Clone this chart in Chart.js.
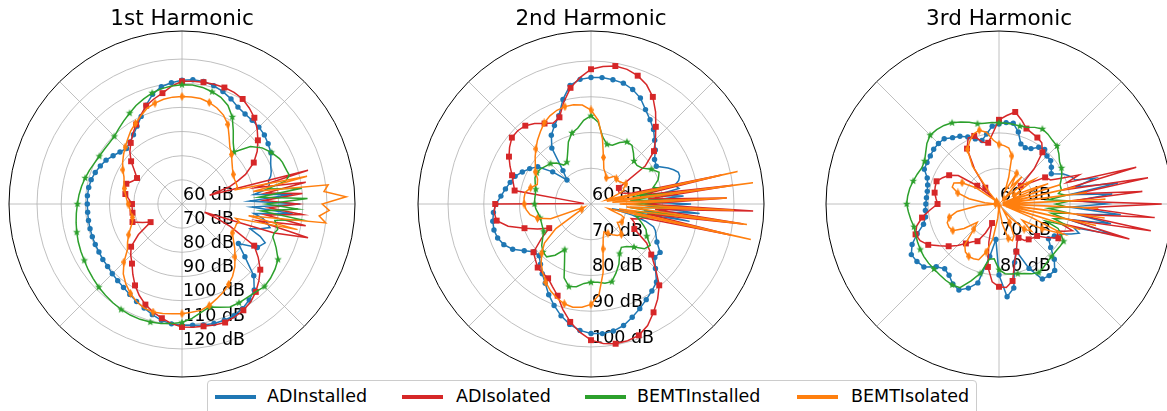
<!DOCTYPE html>
<html>
<head>
<meta charset="utf-8">
<script src="https://cdn.jsdelivr.net/npm/chart.js@4.4.1/dist/chart.umd.min.js"></script>
<style>
html, body { margin: 0; padding: 0; background: #fff; width: 1167px; height: 411px; overflow: hidden; }
canvas { position: absolute; top: 0; }
#legend { position: absolute; left: 207px; top: 380px; width: 770px; height: 40px; box-sizing: border-box;
  border: 1px solid #cccccc; border-radius: 4px; background: #fff; font: 17.5px "DejaVu Sans"; color: #000; }
#legend .ln { position: absolute; top: 14px; height: 4px; width: 41px; }
#legend .tx { position: absolute; top: 5px; white-space: nowrap; }
</style>
</head>
<body>
<canvas id="h1" width="364" height="378" style="left:0px"></canvas>
<canvas id="h2" width="364" height="378" style="left:409px"></canvas>
<canvas id="h3" width="364" height="378" style="left:817px"></canvas>
<div id="legend"></div>
<script>
// angle grid of the charts: 2.5 degree steps, counter-clockwise from east
const angles = [];
for (let a = 0; a < 360; a += 2.5) angles.push(a);
// smooth part of each curve is read every 5 deg from 30 to 330 deg,
// the noisy part round 0 deg every 2.5 deg from -25 to +25 deg
const smoothAngles = [];
for (let a = 30; a <= 330; a += 5) smoothAngles.push(a);
const spikeAngles = [];
for (let a = -25; a <= 25; a += 2.5) spikeAngles.push(a);

const seriesNames = ['ADInstalled', 'ADIsolated', 'BEMTInstalled', 'BEMTIsolated'];
const seriesColors = ['#1f77b4', '#d62728', '#2ca02c', '#ff7f0e'];

// ---- 1st harmonic (dB) ----
const h1_ADInstalled = [
  102.5, 103.5, 104.5, 105, 105.2, 105.5,
  106.3, 108, 109.5, 110.7, 111.5, 111.6, 111.2, 110.4, 109.3, 107, 103.5, 100,
  97.2, 95, 93.5, 92.5, 93.5, 94.8, 96.3, 97.3, 98.2, 98.9, 99.2, 99.3,
  99.2, 99.2, 99.3, 99.4, 99.5, 99.6, 99.7, 100, 100.2, 100.8, 101.4, 102.2,
  103.2, 104.5, 105.8, 107.4, 108.9, 109.8, 110.2, 110.4, 110.8, 111.2, 111.2, 111,
  110, 108.5, 106.5, 102, 94, 88.5, 96
];
const h1_ADIsolated = [
  94.3, 98, 101, 104, 106.6, 108.5,
  110.2, 111, 111.3, 111.3, 111.2, 111, 110.8, 109, 106.6, 105, 103.3, 100.5,
  98, 95.5, 93, 90.5, 87.5, 84, 81.5, 82.5, 84.5, 84.5, 83.8, 82,
  80.7, 80.7, 80.8, 81, 81.8, 78, 75, 82, 87.5, 90, 92.2, 95.5,
  98.9, 101.8, 104.3, 106.3, 108, 109.7, 110.9, 111.2, 111.4, 111.8, 112.2, 111.6,
  110.8, 109.5, 107.5, 105, 102.3, 98.5, 94.5
];
const h1_BEMTInstalled = [
  102.7, 100.5, 97, 90.5, 93, 97,
  101.6, 105, 107, 108.1, 109, 109.4, 109.4, 109, 108.5, 107.6, 106.3, 105,
  103.4, 102, 100.7, 99.6, 99.3, 99.3, 99.5, 100, 100.8, 101.5, 102.2, 102.8,
  103.3, 103.9, 104.5, 105.1, 105.7, 106.2, 106.7, 107.4, 108, 108.7, 109.3, 109.9,
  110.4, 110.7, 110.8, 110.6, 110.2, 109.6, 109, 107.5, 105.5, 104.1, 105.5, 107,
  107.2, 107.2, 107.5, 108.3, 107.8, 107, 105.9
];
const h1_BEMTIsolated = [
  84.5, 85.5, 87, 89, 90.8, 94,
  98, 100.6, 102.3, 103.5, 104.3, 104.5, 104.5, 104.4, 104, 103.2, 102.2, 100.3,
  98.5, 97, 95, 93.3, 91.6, 90, 88.3, 86.5, 85.5, 84.8, 83.8, 83,
  82.3, 81.7, 81.5, 81.3, 81.8, 83.5, 85.5, 87.5, 89.5, 94, 97.8, 100.5,
  102.7, 104.5, 105.8, 106.3, 106, 105.6, 105.4, 105, 104.7, 103.5, 101.8, 100.3,
  98.5, 96.5, 94, 91, 88.5, 86, 84
];
const h1_ADInstalled_spike   = [98, 95, 90, 94, 97.7, 96, 94, 90, 106, 89, 109, 88, 106, 90, 96, 97, 97, 98.5, 99.3, 99.8, 100.5];
const h1_ADIsolated_spike    = [82, 76, 70, 100, 114, 92, 112, 95, 110, 96, 108, 94, 110, 95, 112, 91, 114, 72, 81, 85, 89];
const h1_BEMTInstalled_spike = [103, 101.5, 100, 100, 101, 100, 99, 110, 93, 108, 95, 112, 92, 110, 96, 104, 106, 105.5, 105.2, 105, 104.5];
const h1_BEMTIsolated_spike  = [84, 84, 84, 85, 83, 109, 88, 120, 117, 121, 118, 128, 119, 121, 90, 113, 83, 84, 84, 84, 84];

// ---- 2nd harmonic (dB) ----
const h2_ADInstalled = [
  81.1, 81.7, 83.5, 85.2, 87.2, 88.8,
  90.5, 92.7, 94.1, 95, 95.3, 95.5, 95.4, 95, 93.7, 90.3, 86.3, 84.2,
  82.2, 79.1, 72.2, 69.5, 74, 78.2, 79.8, 81.2, 82.6, 83.4, 84.3, 85.3,
  86.6, 87.4, 87.9, 88.1, 87.8, 86.9, 85.3, 82.8, 80.8, 80.5, 82, 83.8,
  85.6, 88, 90.2, 92.4, 94.2, 95.5, 96.2, 96.4, 96.1, 95.2, 93.7, 92.3,
  90.9, 89.7, 88.5, 85.5, 83.3, 83.6, 81.3
];
const h2_ADIsolated = [
  69, 78.5, 83, 85.5, 88.2, 91.5,
  94.6, 96.8, 98.2, 99, 99.2, 98.6, 97.7, 95.5, 93, 89.5, 85.8, 85,
  86, 87.5, 88.6, 89, 88.9, 87.8, 86.5, 85, 83.5, 82.5, 81.7, 62,
  86.8, 87.2, 86.8, 84, 79.8, 76.5, 73.5, 77, 81, 82, 83.2, 83.6,
  84, 85.5, 87.3, 90.5, 93.5, 96, 98.1, 99.2, 99.7, 99.6, 99.1, 97.5,
  95, 92.5, 89.7, 85.5, 82, 79, 74
];
const h2_BEMTInstalled = [
  79.5, 77.5, 76.8, 77, 78.5, 80,
  80.1, 79, 77.5, 77.3, 79, 83, 84.7, 83.5, 81.5, 80.6, 78.5, 75.5,
  73.5, 73.3, 75, 76, 76.5, 77.2, 77.5, 77.3, 76.6, 76, 75.8, 75.8,
  75.8, 75.5, 75, 74.8, 74.8, 75, 75.3, 76.5, 78, 79, 79.3, 77.5,
  74.7, 77.5, 82, 83.9, 83.5, 82.3, 81.9, 82, 82.5, 82.5, 80.5, 78.5,
  76, 74.8, 75.5, 77, 79.5, 80.2, 78
];
const h2_BEMTIsolated = [
  71.3, 70.5, 70, 70, 70.1, 69,
  68.5, 69.5, 70.5, 73.5, 78.5, 83.5, 86.3, 87.8, 88.2, 88.2, 87.9, 87.2,
  86.2, 84.7, 83.3, 81.8, 80.4, 79, 78, 76.5, 76, 77.5, 78.7, 78.8,
  78.7, 78.2, 77.3, 75.5, 72, 62, 63, 72, 77, 79.5, 81.7, 83.5,
  85.3, 86.8, 88, 88.9, 89.3, 89, 88.1, 85.5, 79.5, 73, 70, 68.6,
  69.5, 70.5, 71.5, 72, 70.5, 69, 70
];
const h2_ADInstalled_spike   = [80, 79.5, 78.6, 76, 72, 66, 88, 75, 90.5, 77, 88, 74, 86, 78, 85, 84, 85.4, 86, 86, 85, 83.8];
const h2_ADIsolated_spike    = [73.5, 73, 72, 74, 75, 100, 76, 103, 78, 105.4, 75, 98, 76, 100, 74, 97.4, 72, 70, 69, 68.5, 68.5];
const h2_BEMTInstalled_spike = [77, 76, 75, 74, 73, 78, 72, 85, 71, 84, 72, 85, 71, 84, 73, 80, 78, 79, 80, 80.5, 81];
const h2_BEMTIsolated_spike  = [70, 70, 69, 66, 65, 105.8, 68, 104, 70, 100, 68, 98, 66, 105.7, 64.5, 102, 64.5, 66, 68, 70, 70];

// ---- 3rd harmonic (dB) ----
const h3_ADInstalled = [
  77, 78, 79, 79.1, 80, 79.5,
  78, 77.5, 78, 81, 83.1, 83, 82.5, 82, 80, 78.5, 79.5, 80.8,
  82, 82.8, 84, 84.1, 84, 83.6, 83.4, 83.2, 81.5, 80.8, 80.5, 80.5,
  80.6, 80.8, 81, 82, 84.5, 87, 88.5, 88.2, 87.6, 85, 83.8, 84.5,
  86, 86.7, 85.2, 83, 75, 70, 80, 86.2, 84, 77, 74, 80,
  84.4, 84.6, 84.4, 82, 79, 77, 78
];
const h3_ADIsolated = [
  75, 70, 68, 74, 79, 81,
  81.6, 82, 82.6, 84.5, 86.3, 85, 83.7, 80, 77.5, 78, 80.4, 80.5,
  78, 72, 66, 63, 68, 74, 76.2, 77.5, 78.7, 78.6, 78.4, 77.8,
  77.3, 79.5, 82, 84, 85, 84.5, 83, 80.5, 78.5, 76.5, 74.5, 73,
  72.1, 69, 65.7, 71, 78, 82, 83.3, 83.6, 82, 77, 74.3, 72,
  71, 72.5, 73, 73.5, 74, 76.5, 79.3
];
const h3_BEMTInstalled = [
  80.3, 80.8, 82, 83.1, 83.4, 84,
  84.4, 83.8, 83, 82.7, 82.8, 82.8, 82.9, 83, 83.1, 83.4, 84.5, 85.5,
  86.4, 87, 87.3, 87.4, 86.5, 85.2, 84.2, 84, 84.5, 85, 85.5, 85.8,
  86, 85.6, 85.2, 84.8, 85, 85.3, 85.6, 85.8, 85.9, 85.9, 86, 86.2,
  86.3, 86, 83, 80.2, 75.8, 75.5, 78.5, 79.7, 80, 80.3, 80.8, 81.7,
  82.3, 81.8, 81.2, 80.9, 80.8, 80.9, 81
];
const h3_BEMTIsolated = [
  65, 72, 68, 62, 70, 66,
  70, 64, 68, 74, 76, 76.5, 76.8, 78, 80.5, 81.5, 81, 79.5,
  77.8, 73, 64, 61, 62, 68, 72, 74, 74, 72, 68.6, 64,
  61, 66, 72, 74.5, 75.5, 75.5, 75, 72, 68, 70, 75, 76.5,
  77, 77, 76.7, 74, 70, 64, 60.5, 62, 66, 70, 71, 70,
  66, 62, 65, 70, 72, 68, 74
];
const h3_ADInstalled_spike   = [80, 82, 84, 82, 93.3, 80, 92, 82, 94.4, 80, 90, 82, 92, 80, 94, 82, 88, 82.4, 82, 81, 80];
const h3_ADIsolated_spike    = [78, 80, 82, 78, 98, 80, 103.4, 82, 104, 84, 105.8, 80, 100.5, 82, 102.6, 78, 100, 80, 84, 79, 76];
const h3_BEMTInstalled_spike = [79, 78, 74, 80, 76, 79, 75, 80, 74, 79, 76, 80, 74, 79, 77, 78, 78, 78, 78.5, 79, 79.5];
const h3_BEMTIsolated_spike  = [80, 70, 62, 84, 61, 88, 62, 90, 61, 88, 62, 90, 61, 85, 62, 82, 61, 78, 62, 75, 70];

// radial tick labels of each panel
const h1_ticks = [60, 70, 80, 90, 100, 110, 120];
const h2_ticks = [60, 70, 80, 90, 100];
const h3_ticks = [60, 70, 80];

// put the smooth and the noisy readings on the common angle grid (null = no reading there)
function onGrid(smooth, spike) {
  return angles.map(a => {
    const s = a > 180 ? a - 360 : a;
    const si = spikeAngles.indexOf(s);
    if (si >= 0) return spike[si];
    const k = smoothAngles.indexOf(a);
    return k >= 0 ? smooth[k] : null;
  });
}
// radar goes clockwise from its first label, the data is counter-clockwise
const toCW = arr => arr.map((_, i) => arr[(arr.length - i) % arr.length]);

function markerStar(color, R) {
  const c = document.createElement('canvas');
  c.width = c.height = 2 * R + 2;
  const g = c.getContext('2d');
  g.fillStyle = color;
  g.beginPath();
  for (let k = 0; k < 10; k++) {
    const rr = k % 2 ? R * 0.42 : R;
    const a = -Math.PI / 2 + k * Math.PI / 5;
    g.lineTo(R + 1 + rr * Math.cos(a), R + 1 + rr * Math.sin(a));
  }
  g.closePath();
  g.fill();
  return c;
}
function markerThinDiamond(color, w, h) {
  const c = document.createElement('canvas');
  c.width = w; c.height = h;
  const g = c.getContext('2d');
  g.fillStyle = color;
  g.beginPath();
  g.moveTo(w / 2, 0); g.lineTo(w, h / 2); g.lineTo(w / 2, h); g.lineTo(0, h / 2);
  g.closePath();
  g.fill();
  return c;
}

const markerStyles = ['circle', 'rect', markerStar(seriesColors[2], 4), markerThinDiamond(seriesColors[3], 5, 9)];
const markerSizes = [2.7, 4.2, 3, 3];
const markEvery = [1, 2, 3, 3];   // in 5 degree steps

const rLabels = {
  id: 'rLabels',
  beforeDatasetsDraw(chart, args, opts) {
    const s = chart.scales.r, ctx = chart.ctx;
    ctx.save();
    ctx.font = '17.5px "DejaVu Sans"';
    ctx.fillStyle = '#000';
    ctx.textAlign = 'left';
    ctx.textBaseline = 'bottom';
    opts.ticks.forEach(v => {
      const d = s.getDistanceFromCenterForValue(v);
      ctx.fillText(v + ' dB', s.xCenter + 1, s.yCenter + d);
    });
    ctx.restore();
  },
  afterDatasetsDraw(chart) {
    const s = chart.scales.r, ctx = chart.ctx;
    ctx.save();
    ctx.strokeStyle = '#000';
    ctx.lineWidth = 1;
    ctx.beginPath();
    ctx.arc(s.xCenter, s.yCenter, s.getDistanceFromCenterForValue(s.max), 0, Math.PI * 2);
    ctx.stroke();
    ctx.restore();
  }
};

function polarChart(id, title, rMax, tickVals, smooth, spikes) {
  const n = angles.length;
  const ctx = document.getElementById(id).getContext('2d');
  return new Chart(ctx, {
    type: 'radar',
    data: {
      labels: toCW(angles).map(a => a + '°'),
      datasets: smooth.map((vals, s) => ({
        label: seriesNames[s],
        data: toCW(onGrid(vals, spikes[s])),
        borderColor: seriesColors[s],
        backgroundColor: seriesColors[s],
        borderWidth: 1.5,
        fill: false,
        tension: 0,
        spanGaps: true,
        clip: false,
        order: 4 - s,
        pointStyle: markerStyles[s],
        pointBorderWidth: 0,
        pointRadius: c => {
          const a = angles[(n - c.dataIndex) % n];
          if (a < 30 || a > 330 || a % 5 !== 0) return 0;
          return (a / 5) % markEvery[s] === 0 ? markerSizes[s] : 0;
        }
      }))
    },
    options: {
      responsive: false,
      animation: false,
      devicePixelRatio: 1,
      layout: { padding: 0 },
      plugins: {
        legend: { display: false },
        tooltip: { enabled: false },
        title: {
          display: true, text: title, color: '#000',
          font: { family: 'DejaVu Sans', size: 21.5, weight: 'normal', lineHeight: 1.1 },
          padding: { top: 8, bottom: 0 }
        },
        rLabels: { ticks: tickVals }
      },
      scales: {
        r: {
          min: 60, max: rMax, startAngle: 90,
          ticks: { display: false, stepSize: 10 },
          pointLabels: { display: false },
          grid: {
            circular: true,
            color: c => (tickVals.includes(c.tick.value) && c.tick.value > 60) ? '#b0b0b0' : 'rgba(0,0,0,0)',
            lineWidth: 0.8
          },
          angleLines: {
            color: c => c.index % 18 === 0 ? '#b0b0b0' : 'rgba(0,0,0,0)',
            lineWidth: c => c.index % 18 === 0 ? 0.8 : 0
          }
        }
      }
    },
    plugins: [rLabels]
  });
}

polarChart('h1', '1st Harmonic', 131.6, h1_ticks,
  [h1_ADInstalled, h1_ADIsolated, h1_BEMTInstalled, h1_BEMTIsolated],
  [h1_ADInstalled_spike, h1_ADIsolated_spike, h1_BEMTInstalled_spike, h1_BEMTIsolated_spike]);
polarChart('h2', '2nd Harmonic', 108.4, h2_ticks,
  [h2_ADInstalled, h2_ADIsolated, h2_BEMTInstalled, h2_BEMTIsolated],
  [h2_ADInstalled_spike, h2_ADIsolated_spike, h2_BEMTInstalled_spike, h2_BEMTIsolated_spike]);
polarChart('h3', '3rd Harmonic', 108.7, h3_ticks,
  [h3_ADInstalled, h3_ADIsolated, h3_BEMTInstalled, h3_BEMTIsolated],
  [h3_ADInstalled_spike, h3_ADIsolated_spike, h3_BEMTInstalled_spike, h3_BEMTIsolated_spike]);

// legend
const legendX = [[7, 59], [194, 248], [377, 429], [589, 643]];
const legend = document.getElementById('legend');
seriesNames.forEach((name, i) => {
  const ln = document.createElement('div');
  ln.className = 'ln';
  ln.style.left = legendX[i][0] + 'px';
  ln.style.background = seriesColors[i];
  legend.appendChild(ln);
  const tx = document.createElement('div');
  tx.className = 'tx';
  tx.style.left = legendX[i][1] + 'px';
  tx.textContent = name;
  legend.appendChild(tx);
});
</script>
</body>
</html>
